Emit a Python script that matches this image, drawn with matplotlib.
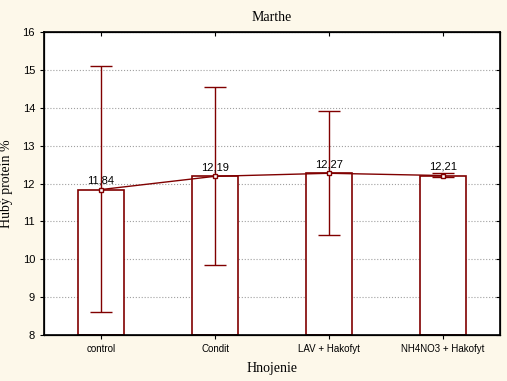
import numpy as np
import matplotlib
matplotlib.use('Agg')
import matplotlib.pyplot as plt

# data
categories = ['control', 'Condit', 'LAV + Hakofyt', 'NH4NO3 + Hakofyt']
means = [11.84, 12.19, 12.27, 12.21]
upper = [15.10, 14.56, 13.92, 12.28]
lower = [8.60, 9.84, 10.63, 12.16]
mean_labels = ['11,84', '12,19', '12,27', '12,21']

red = '#800000'
bg = '#fdf8ea'

plt.rcParams['font.family'] = ['Liberation Sans', 'DejaVu Sans']

fig = plt.figure(figsize=(5.07, 3.81), dpi=100, facecolor=bg)
ax = fig.add_axes([44/507, 1 - 335/381, 456/507, 303/381])
ax.set_facecolor('white')

x = np.arange(len(categories)) + 0.5
ax.bar(x, [m - 8 for m in means], bottom=8, width=0.395, color='white',
       edgecolor=red, linewidth=1.2, zorder=2)
yerr = [np.array(means) - np.array(lower), np.array(upper) - np.array(means)]
ax.errorbar(x, means, yerr=yerr, fmt='none', ecolor=red, elinewidth=1,
            capsize=8.2, capthick=1, zorder=3)
ax.plot(x, means, color=red, lw=1, marker='s', ms=3.5, mfc='white', mec=red,
        mew=1, zorder=4)
for xi, m, lab in zip(x, means, mean_labels):
    ax.text(xi, m + 0.1, lab, ha='center', va='bottom', fontsize=8, zorder=5)

ax.set_xlim(0, 4)
ax.set_ylim(8, 16)
ax.set_xticks(x)
ax.set_xticklabels(categories, fontsize=7)
ax.set_yticks(range(8, 17))
ax.tick_params(axis='y', labelsize=8, length=3)
ax.tick_params(axis='x', length=3)
ax.yaxis.grid(True, linestyle=':', color='#a0a0a0', lw=0.8)
ax.set_axisbelow(True)
for s in ax.spines.values():
    s.set_linewidth(1.2)

# inward ticks on right and top
axr = ax.twinx()
axr.set_ylim(ax.get_ylim())
axr.set_yticks(range(8, 17))
axr.tick_params(direction='in', length=3, labelright=False)
axt = ax.twiny()
axt.set_xlim(ax.get_xlim())
axt.set_xticks(x)
axt.tick_params(direction='in', length=3, labeltop=False)

serif = ['Liberation Serif', 'DejaVu Serif']
ax.set_title('Marthe', fontsize=10, family=serif, pad=8)
ax.set_xlabel('Hnojenie', fontsize=10, family=serif, labelpad=6)
ax.set_ylabel('Hubý proteín %', fontsize=10, family=serif)
ax.yaxis.set_label_coords(-0.068, 0.5)

fig.savefig('out.png', dpi=100, facecolor=bg)
